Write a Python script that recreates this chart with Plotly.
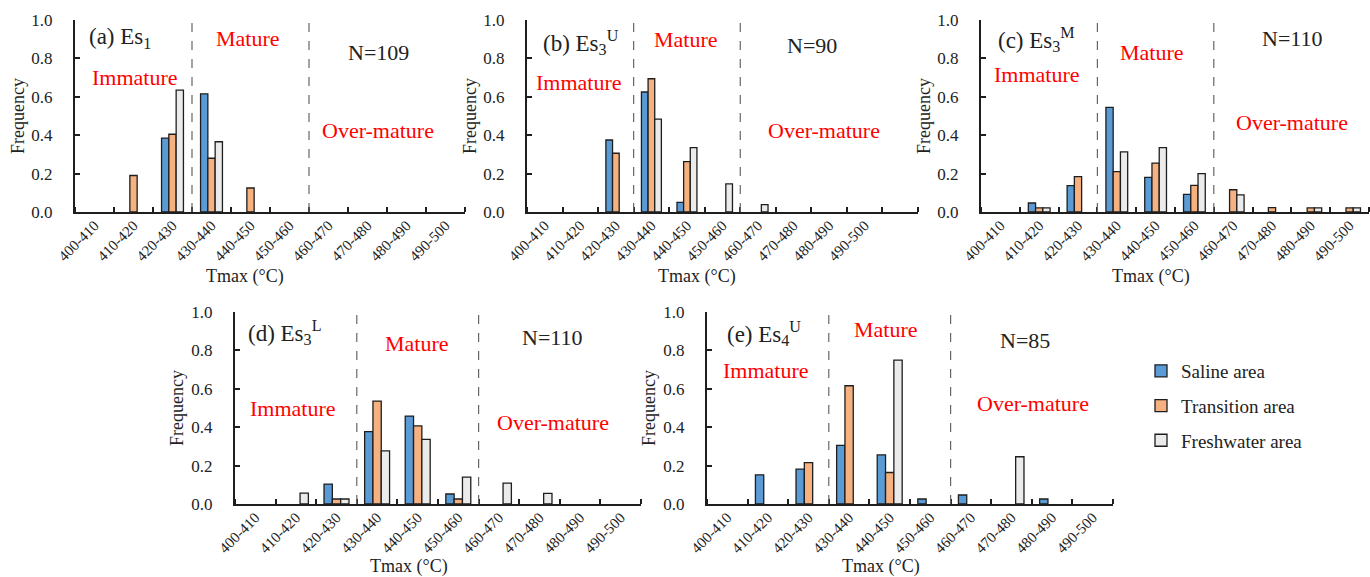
import plotly.graph_objects as go

W, H = 1370, 577

categories = ["400-410", "410-420", "420-430", "430-440", "440-450",
              "450-460", "460-470", "470-480", "480-490", "490-500"]
series_names = ["Saline area", "Transition area", "Freshwater area"]

saline_a = [0, 0, 0.385, 0.615, 0, 0, 0, 0, 0, 0]
transition_a = [0, 0.19, 0.405, 0.28, 0.125, 0, 0, 0, 0, 0]
fresh_a = [0, 0, 0.635, 0.366, 0, 0, 0, 0, 0, 0]

saline_b = [0, 0, 0.375, 0.625, 0.05, 0, 0, 0, 0, 0]
transition_b = [0, 0, 0.306, 0.694, 0.262, 0, 0, 0, 0, 0]
fresh_b = [0, 0, 0, 0.484, 0.335, 0.146, 0.038, 0, 0, 0]

saline_c = [0, 0.047, 0.137, 0.545, 0.18, 0.092, 0, 0, 0, 0]
transition_c = [0, 0.021, 0.184, 0.21, 0.255, 0.139, 0.116, 0.023, 0.021, 0.021]
fresh_c = [0, 0.021, 0, 0.313, 0.335, 0.2, 0.089, 0, 0.021, 0.021]

saline_d = [0, 0, 0.104, 0.377, 0.458, 0.052, 0, 0, 0, 0]
transition_d = [0, 0, 0.026, 0.536, 0.407, 0.026, 0, 0, 0, 0]
fresh_d = [0, 0.057, 0.026, 0.277, 0.337, 0.14, 0.109, 0.055, 0, 0]

saline_e = [0, 0.152, 0.182, 0.305, 0.256, 0.026, 0.047, 0, 0.026, 0]
transition_e = [0, 0, 0.215, 0.616, 0.164, 0, 0, 0, 0, 0]
fresh_e = [0, 0, 0, 0, 0.749, 0, 0, 0.246, 0, 0]

panel_titles = ["(a) Es<sub>1</sub>", "(b) Es<sub>3</sub><sup>U</sup>",
                "(c) Es<sub>3</sub><sup>M</sup>", "(d) Es<sub>3</sub><sup>L</sup>",
                "(e) Es<sub>4</sub><sup>U</sup>"]
sample_counts = [109, 90, 110, 110, 85]
maturity_bounds = ["430-440", "460-470"]  # first bin of Mature / Over-mature
y_ticks = [0, 0.2, 0.4, 0.6, 0.8, 1.0]

data = [
    (saline_a, transition_a, fresh_a),
    (saline_b, transition_b, fresh_b),
    (saline_c, transition_c, fresh_c),
    (saline_d, transition_d, fresh_d),
    (saline_e, transition_e, fresh_e),
]

colors = ["#5b9bd5", "#f5b17f", "#ebebeb"]
FONT = "Liberation Serif"
TXT = "#222222"

# layout (pixels): left, right, top(1.0), bottom(0.0), n category slots, bar width
panels = [
    dict(l=75, r=465, t=20, b=212, slots=10, w=0.187,
         title=(87, 38), mat=(248, 38), n=(378, 52), imm=(135, 78), over=(378, 130),
         ytitle=(18, 116), xtitle=(245, 277)),
    dict(l=527, r=918, t=20, b=212, slots=11, w=0.187,
         title=(541, 42), mat=(686, 40), n=(812, 45), imm=(579, 82), over=(824, 130),
         ytitle=(470, 116), xtitle=(697, 277)),
    dict(l=981, r=1369, t=20, b=212, slots=10, w=0.187,
         title=(996, 40), mat=(1152, 52), n=(1292, 39), imm=(1037, 74), over=(1292, 122),
         ytitle=(924, 116), xtitle=(1151, 277)),
    dict(l=235, r=641, t=312, b=504, slots=10, w=0.205,
         title=(246, 332), mat=(417, 343), n=(552, 337), imm=(293, 408), over=(553, 422),
         ytitle=(177, 408), xtitle=(409, 566)),
    dict(l=707, r=1113, t=312, b=504, slots=10, w=0.205,
         title=(725, 333), mat=(886, 329), n=(1025, 340), imm=(766, 370), over=(1033, 403),
         ytitle=(649, 408), xtitle=(881, 566)),
]

fig = go.Figure()
annotations = []
shapes = []
xpos = list(range(len(categories)))

for i, (p, series) in enumerate(zip(panels, data)):
    ax = "" if i == 0 else str(i + 1)
    xa, ya = "x" + ax, "y" + ax
    w = p["w"]
    for k, (vals, name, col) in enumerate(zip(series, series_names, colors)):
        fig.add_trace(go.Bar(
            x=xpos, y=[v if v > 0 else None for v in vals], name=name,
            width=w, offset=-1.5 * w + k * w,
            marker=dict(color=col, line=dict(color="#1e1e1e", width=1.3)),
            xaxis=xa, yaxis=ya, showlegend=(i == 0), legendgroup=name,
        ))
    xlay = dict(
        domain=[p["l"] / W, p["r"] / W], anchor=ya, automargin=False,
        range=[-0.5, p["slots"] - 0.5],
        tickmode="array", tickvals=xpos, ticktext=categories, ticks="",
        tickangle=-45, tickfont=dict(family=FONT, size=15, color=TXT),
        ticklabelstandoff=-3,
        showline=True, linecolor="#1e1e1e", linewidth=2,
        showgrid=False, zeroline=False, fixedrange=True,
        minor=dict(ticks="inside", tick0=-0.5, dtick=1, ticklen=5,
                   tickwidth=1.5, tickcolor="#1e1e1e", showgrid=False),
    )
    ylay = dict(
        domain=[1 - p["b"] / H, 1 - p["t"] / H], anchor=xa, automargin=False,
        range=[0, 1.0], tickmode="array", tickvals=y_ticks,
        tickformat=".1f", ticks="inside", ticklen=5, tickwidth=1.5,
        tickcolor="#1e1e1e", tickfont=dict(family=FONT, size=17, color=TXT),
        ticklabelstandoff=17,
        showline=True, linecolor="#1e1e1e", linewidth=2,
        showgrid=False, zeroline=False, fixedrange=True,
    )
    fig.update_layout({"xaxis" + ax: xlay, "yaxis" + ax: ylay})

    for bnd in maturity_bounds:
        xb = categories.index(bnd) - 0.5
        shapes.append(dict(type="line", xref=xa, yref=ya + " domain",
                           x0=xb, x1=xb, y0=0, y1=1.025,
                           line=dict(color="#666666", width=1.2, dash="dash")))

    def px(pt):
        return pt[0] / W, 1 - pt[1] / H

    x0, y0 = px(p["title"])
    annotations.append(dict(text=panel_titles[i], x=x0, y=y0, xref="paper", yref="paper",
                            xanchor="left", yanchor="middle", showarrow=False,
                            font=dict(family=FONT, size=23, color=TXT)))
    for key, txt, colr in [("mat", "Mature", "#ff0000"), ("imm", "Immature", "#ff0000"),
                           ("over", "Over-mature", "#ff0000"),
                           ("n", "N=%d" % sample_counts[i], TXT)]:
        xx, yy = px(p[key])
        annotations.append(dict(text=txt, x=xx, y=yy, xref="paper", yref="paper",
                                xanchor="center", yanchor="middle", showarrow=False,
                                font=dict(family=FONT, size=22, color=colr)))
    xx, yy = px(p["ytitle"])
    annotations.append(dict(text="Frequency", x=xx, y=yy, xref="paper", yref="paper",
                            textangle=-90, xanchor="center", yanchor="middle",
                            showarrow=False, font=dict(family=FONT, size=18, color=TXT)))
    xx, yy = px(p["xtitle"])
    annotations.append(dict(text="Tmax (°C)", x=xx, y=yy, xref="paper", yref="paper",
                            xanchor="center", yanchor="middle", showarrow=False,
                            font=dict(family=FONT, size=18, color=TXT)))

fig.update_layout(
    width=W, height=H, margin=dict(l=0, r=0, t=0, b=0, autoexpand=False),
    paper_bgcolor="white", plot_bgcolor="white",
    barmode="overlay", showlegend=True,
    legend=dict(x=1141 / W, y=1 - 352 / H, xanchor="left", yanchor="top",
                traceorder="grouped", tracegroupgap=7,
                font=dict(family=FONT, size=19, color=TXT),
                bgcolor="rgba(0,0,0,0)"),
    annotations=annotations, shapes=shapes,
)

fig.write_html("out.html")
